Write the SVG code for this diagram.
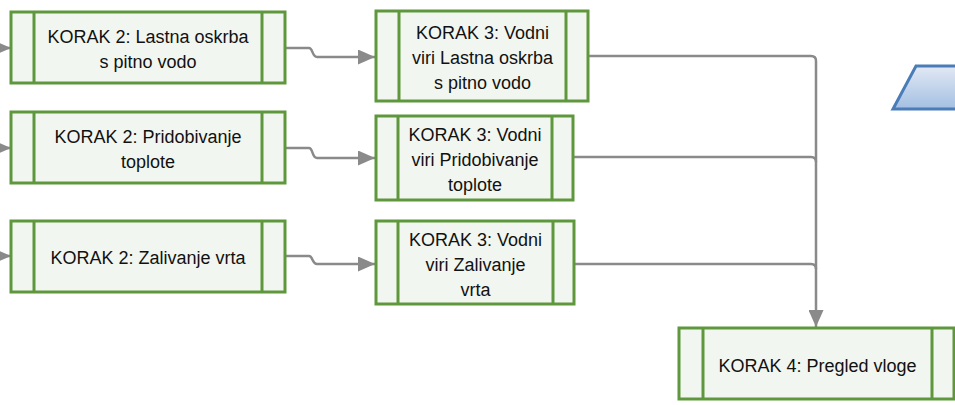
<svg xmlns="http://www.w3.org/2000/svg" width="955" height="405" viewBox="0 0 955 405">
<defs>
<style>
.box{fill:#f2f6f0;stroke:#5f973c;stroke-width:3}
.div{stroke:#5f973c;stroke-width:3;fill:none}
.t{font-family:"Liberation Sans",Arial,sans-serif;font-size:18px;fill:#111;text-anchor:middle}
.c{fill:none;stroke:#8a8a8a;stroke-width:2.5}
</style>
<marker id="ah" markerWidth="17" markerHeight="15" refX="17" refY="7.5" orient="auto" markerUnits="userSpaceOnUse">
<path d="M0,0 L17,7.5 L0,15 Z" fill="#8a8a8a"/>
</marker>
<linearGradient id="bg" x1="0" y1="0" x2="0" y2="1">
<stop offset="0" stop-color="#e2e9f4"/>
<stop offset="1" stop-color="#a3bfe3"/>
</linearGradient>
</defs>
<g id="connectors">
<path class="c" d="M-20,48 H11" marker-end="url(#ah)"/>
<path class="c" d="M-20,148 H11" marker-end="url(#ah)"/>
<path class="c" d="M-20,256 H11" marker-end="url(#ah)"/>
<path class="c" d="M285,48 H309 C313,48 312,57 317,57 H375" marker-end="url(#ah)"/>
<path class="c" d="M285,148 H309 C313,148 312,158 317,158 H375" marker-end="url(#ah)"/>
<path class="c" d="M285,256 H309 C313,256 312,264 317,264 H375" marker-end="url(#ah)"/>
<path class="c" d="M588,56 H811 Q816,56 816,61 V327" marker-end="url(#ah)"/>
<path class="c" d="M573,157 H811 Q816,157 816,162"/>
<path class="c" d="M574,264 H811 Q816,264 816,269"/>
</g>
<g id="n1">
<rect class="box" x="11" y="12" width="274" height="71"/>
<path class="div" d="M34,12 V83 M262,12 V83"/>
<text class="t" x="148" y="43">KORAK 2: Lastna oskrba</text>
<text class="t" x="148" y="68">s pitno vodo</text>
</g>
<g id="n2">
<rect class="box" x="11" y="112" width="274" height="71"/>
<path class="div" d="M34,112 V183 M262,112 V183"/>
<text class="t" x="148" y="143">KORAK 2: Pridobivanje</text>
<text class="t" x="148" y="168">toplote</text>
</g>
<g id="n3">
<rect class="box" x="11" y="221" width="274" height="71"/>
<path class="div" d="M34,221 V292 M262,221 V292"/>
<text class="t" x="148" y="264">KORAK 2: Zalivanje vrta</text>
</g>
<g id="n4">
<rect class="box" x="376" y="11" width="212" height="90"/>
<path class="div" d="M399,11 V101 M566,11 V101"/>
<text class="t" x="482.5" y="39">KORAK 3: Vodni</text>
<text class="t" x="482.5" y="64">viri Lastna oskrba</text>
<text class="t" x="482.5" y="89">s pitno vodo</text>
</g>
<g id="n5">
<rect class="box" x="376" y="116" width="197" height="84"/>
<path class="div" d="M398,116 V200 M552,116 V200"/>
<text class="t" x="475" y="141">KORAK 3: Vodni</text>
<text class="t" x="475" y="166">viri Pridobivanje</text>
<text class="t" x="475" y="191">toplote</text>
</g>
<g id="n6">
<rect class="box" x="376" y="221" width="198" height="83"/>
<path class="div" d="M398,221 V304 M553,221 V304"/>
<text class="t" x="475.5" y="246">KORAK 3: Vodni</text>
<text class="t" x="475.5" y="271">viri Zalivanje</text>
<text class="t" x="475.5" y="296">vrta</text>
</g>
<g id="n7">
<rect class="box" x="679" y="328" width="275" height="71"/>
<path class="div" d="M703,328 V399 M932,328 V399"/>
<text class="t" x="817.5" y="372">KORAK 4: Pregled vloge</text>
</g>
<g id="n8">
<path d="M916,66 H970 V109 H893 Z" fill="url(#bg)" stroke="#4a7db8" stroke-width="3"/>
</g>
</svg>
